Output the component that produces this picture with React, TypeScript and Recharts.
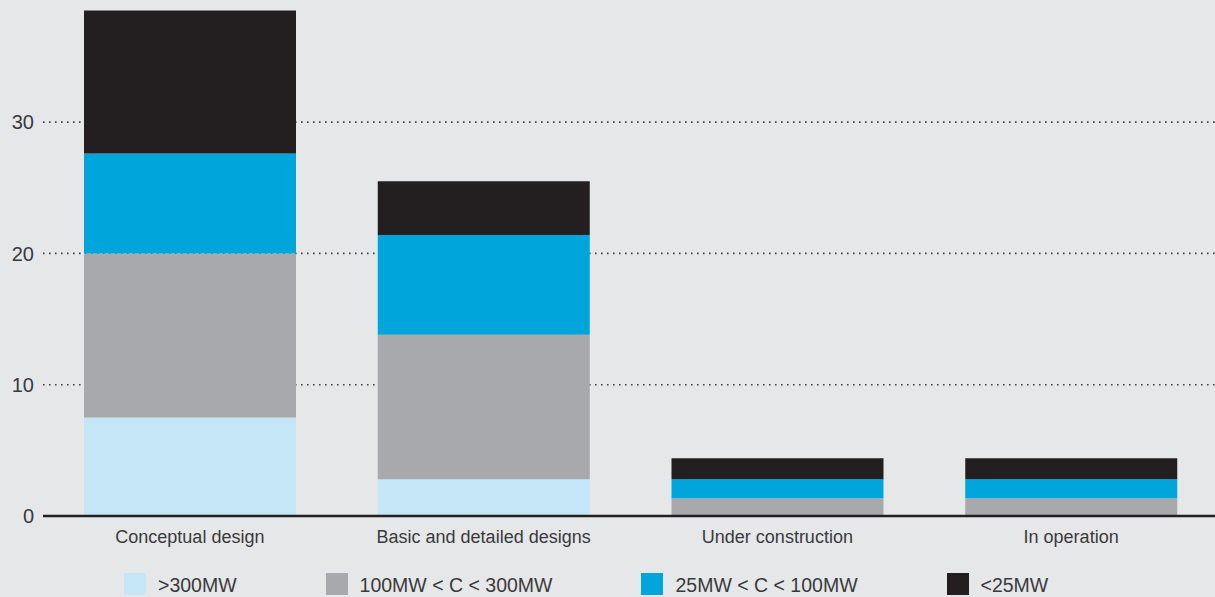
import React from 'react';
import { BarChart, Bar, XAxis, YAxis, CartesianGrid, Legend } from 'recharts';

const categories = ['Conceptual design', 'Basic and detailed designs', 'Under construction', 'In operation'];
const over300 = [7.5, 2.8, 0, 0];
const mid100to300 = [12.5, 11, 1.35, 1.35];
const mid25to100 = [7.6, 7.6, 1.45, 1.45];
const under25 = [10.9, 4.1, 1.6, 1.6];
const yTicks = [0, 10, 20, 30];
const gridValues = [10, 20, 30];

const seriesNames = ['>300MW', '100MW < C < 300MW', '25MW < C < 100MW', '<25MW'];
const seriesKeys = ['a', 'b', 'c', 'd'];
const colors = ['#c5e6f6', '#a7a9ac', '#00a5db', '#231f20'];

const data = categories.map((name, i) => ({
  name,
  a: over300[i],
  b: mid100to300[i],
  c: mid25to100[i],
  d: under25[i],
}));

const FONT = '"Liberation Sans", Arial, sans-serif';
const TEXT = '#3a3a3c';

const LegendContent = () => (
  <div style={{ display: 'flex', alignItems: 'flex-start', paddingLeft: 124, fontFamily: FONT, fontSize: 19.5, color: TEXT }}>
    {seriesNames.map((n, i) => (
      <div key={n} style={{ display: 'flex', alignItems: 'flex-start', marginRight: 89 }}>
        <div style={{ width: 22, height: 22, background: colors[i] }} />
        <div style={{ marginLeft: 12, lineHeight: '22px', marginTop: 1, whiteSpace: 'nowrap' }}>{n}</div>
      </div>
    ))}
  </div>
);

export default function App() {
  return (
    <div style={{ position: 'absolute', left: 0, top: 0, width: 1215, height: 597, background: '#e6e7e9', overflow: 'hidden' }}>
      <BarChart width={1218} height={597} data={data} margin={{ top: 0, right: 0, bottom: 0, left: 0 }} barSize={212}>
        <CartesianGrid horizontal vertical={false} horizontalValues={gridValues} stroke="#444" strokeWidth={1.6} strokeDasharray="1.6 4.4" />
        <XAxis
          dataKey="name"
          height={81}
          tickLine={false}
          tickSize={6}
          tickMargin={8}
          axisLine={{ stroke: '#231f20', strokeWidth: 2.5 }}
          tick={{ fill: TEXT, fontSize: 18, fontFamily: FONT }}
          interval={0}
        />
        <YAxis
          width={43}
          domain={[0, 39.3]}
          ticks={yTicks}
          axisLine={false}
          tickLine={false}
          tickSize={6}
          tickMargin={3}
          tick={{ fill: TEXT, fontSize: 20, fontFamily: FONT }}
        />
        <Legend
          layout="horizontal"
          verticalAlign="middle"
          align="center"
          content={<LegendContent />}
          wrapperStyle={{ top: 573, left: 0, width: 1215, height: 24 }}
        />
        {seriesKeys.map((k, i) => (
          <Bar key={k} dataKey={k} name={seriesNames[i]} stackId="s" fill={colors[i]} isAnimationActive={false} />
        ))}
      </BarChart>
    </div>
  );
}
